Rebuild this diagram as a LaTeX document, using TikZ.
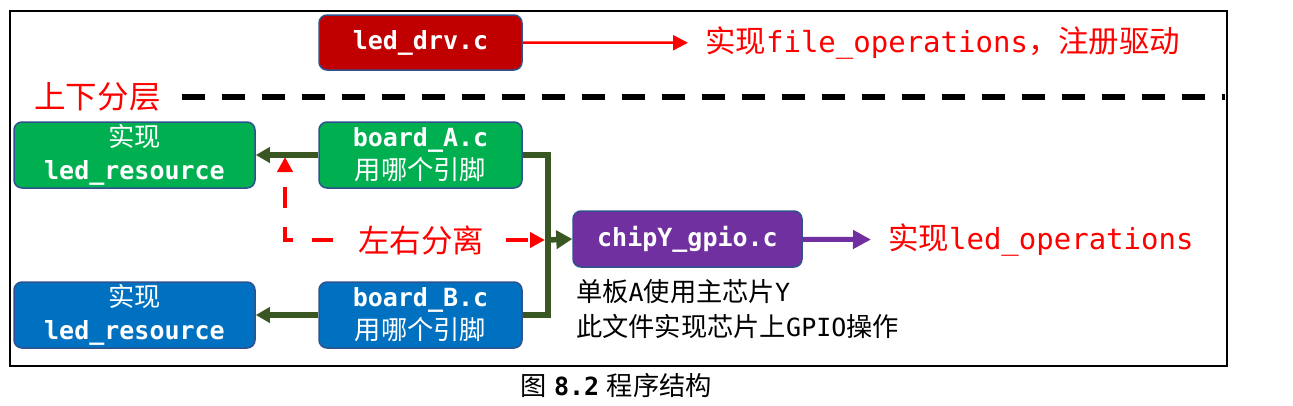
\documentclass[tikz,border=0pt]{standalone}
\usepackage{fontspec}
\setmonofont{DejaVu Sans Mono}
\newfontfamily\cjk{Noto Sans CJK SC}[Scale=1.05]
\usetikzlibrary{arrows.meta}
\definecolor{drvred}{HTML}{C00000}
\definecolor{boardgreen}{HTML}{00B050}
\definecolor{boardblue}{HTML}{0070C0}
\definecolor{chippurple}{HTML}{7030A0}
\definecolor{boxedge}{HTML}{2F528F}
\definecolor{busgreen}{HTML}{385723}
\newcommand{\zh}[1]{{\cjk #1}}
\newcommand{\code}[1]{{\ttfamily #1}}

\begin{document}
\begin{tikzpicture}[x=1pt, y=-1pt, >={Triangle[length=15pt,width=15pt]}]
        \tikzset{filebox/.style={draw=boxedge, line width=1.5pt, rounded corners=8pt, inner sep=0pt, text=white, align=center, minimum width=203pt, minimum height=66pt, font=\fontsize{25}{33}\selectfont\bfseries},
                 redtext/.style={text=red, inner sep=0pt, anchor=west, font=\fontsize{29}{35}\selectfont},
                 busline/.style={busgreen, line width=5.5pt},
                 sepline/.style={red, line width=4.5pt, dash pattern=on 21pt off 19pt}}
        \useasboundingbox (0,0) rectangle (1293,405);
        \draw[line width=1.5pt] (10,11) rectangle (1227,366);

        \node[filebox, fill=drvred, minimum height=55pt] (drv) at (420.5,42.5) {\code{led\_drv.c}};
        \node[redtext] (fops) at (705,43) {\zh{实现}\code{file\_operations}\zh{，注册驱动}};
        \draw[->, red, line width=2.5pt, shorten >=17pt] (drv) -- (fops);

        \node[text=red, font=\fontsize{30}{36}\selectfont] (layer) at (97.5,97) {\zh{上下分层}};
        \coordinate (layend) at (1225,97);
        \draw[line width=6pt, dash pattern=on 23pt off 17pt, shorten <=18pt] (layer.east) -- (layend);

        \node[filebox, fill=boardgreen] (boarda) at (420.5,155) {\code{board\_A.c}\\\zh{\mdseries 用哪个引脚}};
        \node[filebox, fill=boardgreen, minimum width=241pt] (resa) at (134.5,155) {\zh{\mdseries 实现}\\\code{led\_resource}};
        \node[filebox, fill=boardblue] (boardb) at (420.5,315) {\code{board\_B.c}\\\zh{\mdseries 用哪个引脚}};
        \node[filebox, fill=boardblue, minimum width=241pt] (resb) at (134.5,315) {\zh{\mdseries 实现}\\\code{led\_resource}};
        \node[filebox, fill=chippurple, minimum width=229pt, minimum height=56pt] (chip) at (687.5,239) {\code{chipY\_gpio.c}};

        \draw[busline, ->, >={Triangle[length=14pt,width=15pt]}] (boarda) -- (resa);
        \draw[busline, ->, >={Triangle[length=14pt,width=15pt]}] (boardb) -- (resb);
        \coordinate (busmid) at (548,240);
        \draw[busline] (boarda.east) -| (busmid) |- (boardb.east);
        \draw[busline, ->, >={Triangle[length=16pt,width=18pt]}] (busmid) -- (chip.west);

        \node[redtext] (lops) at (888,240) {\zh{实现}\code{led\_operations}};
        \draw[->, chippurple, line width=5pt, shorten >=17pt, >={Triangle[length=18pt,width=18pt]}] (chip) -- (lops);

        \node[anchor=north west, align=left, inner sep=0pt, font=\fontsize{25}{35}\selectfont] (chipnote) at (576,279) {\zh{单板}\code{A}\zh{使用主芯片}\code{Y}\\\zh{此文件实现芯片上}\code{GPIO}\zh{操作}};

        \coordinate (lrtop) at (285,157);
        \node[text=red, inner sep=8pt, font=\fontsize{30}{36}\selectfont] (split) at (421,240) {\zh{左右分离}};
        \draw[sepline, <-, dash phase=24pt] (lrtop) |- (split.west);
        \draw[sepline, ->, dash pattern=on 22pt off 20pt, dash phase=28pt, shorten >=3pt] (split.east) -- (busmid);

        \node[font=\fontsize{25}{30}\selectfont] (caption) at (616,385) {\zh{图} \code{\bfseries 8.2} \zh{程序结构}};
\end{tikzpicture}
\end{document}
